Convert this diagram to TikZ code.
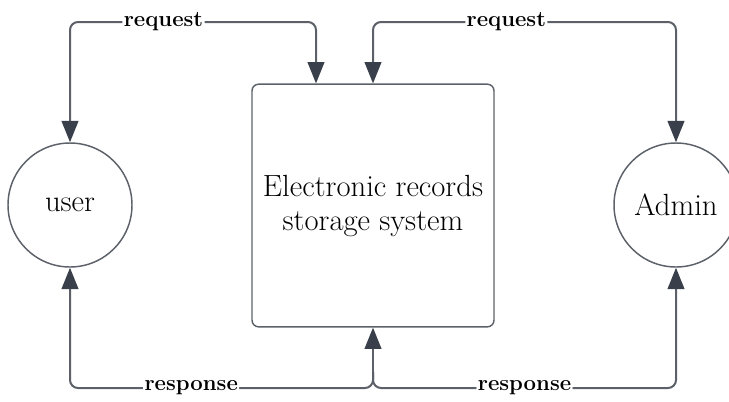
\documentclass[tikz,border=0pt]{standalone}
\usepackage{amsmath,amssymb,tikz}
\usetikzlibrary{arrows.meta}
\usepackage{xcolor}
\definecolor{lineclr}{RGB}{92,97,105}
\definecolor{tipclr}{RGB}{58,64,75}

\begin{document}
\begin{tikzpicture}[x=0.75pt,y=0.75pt,yscale=-1,xscale=1,
  flow/.style={draw=lineclr,line width=1.5pt,rounded corners=6pt,
    arrows={-{Triangle[length=16pt,width=12.5pt,fill=tipclr,color=tipclr]}}},
  lbl/.style={fill=white,inner sep=1pt,font=\fontsize{16.6}{19}\selectfont\bfseries},
  actor/.style={circle,draw=lineclr,line width=1.1pt,minimum size=93pt,inner sep=0pt,
    font=\fontsize{23}{26}\selectfont},
  sysbox/.style={rectangle,draw=lineclr,line width=1.1pt,rounded corners=5pt,
    minimum width=181.5pt,minimum height=182pt,align=center,
    font=\fontsize{23}{25.5}\selectfont}]
\useasboundingbox (0,0) rectangle (729,401);

%Shape: Circle [user]
\node[actor] (user) at (70,205) {user};
%Shape: Circle [admin]
\node[actor] (admin) at (676,205) {Admin};
%Shape: Rectangle [system]
\node[sysbox] (ers) at (373,205.5) {Electronic records\\storage system};

%Straight Lines [request, left]
\draw[flow,{Triangle[length=16pt,width=12.5pt,fill=tipclr,color=tipclr]}-{Triangle[length=16pt,width=12.5pt,fill=tipclr,color=tipclr]}]
  (user.north) -- (70,22) -- node[lbl,pos=0.38]{request} (316,22) -- ([xshift=-42.75pt]ers.north);
%Straight Lines [request, right]
\draw[flow,{Triangle[length=16pt,width=12.5pt,fill=tipclr,color=tipclr]}-{Triangle[length=16pt,width=12.5pt,fill=tipclr,color=tipclr]}]
  (ers.north) -- (373,22) -- node[lbl,pos=0.44]{request} (676,22) -- (admin.north);

%Straight Lines [response]
\coordinate (jn) at (373,372);
\draw[flow] (jn) -- (ers.south);
\draw[flow] (jn) -- (373,388) -- node[lbl,pos=0.60]{response} (70,388) -- (user.south);
\draw[flow] (jn) -- (373,388) -- node[lbl,pos=0.50]{response} (676,388) -- (admin.south);

\end{tikzpicture}
\end{document}
